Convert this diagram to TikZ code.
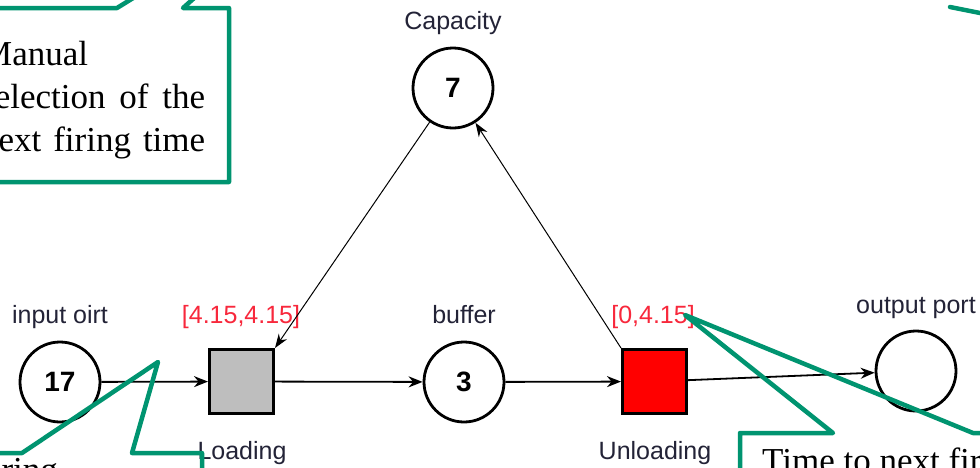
\documentclass[tikz,border=0pt]{standalone}
\usepackage{fontspec}
\setmainfont{Liberation Serif}
\setsansfont{Liberation Sans}
\usetikzlibrary{arrows.meta}
\definecolor{callgreen}{RGB}{0,148,112}
\definecolor{timered}{RGB}{248,40,60}
\definecolor{tokengray}{RGB}{190,190,190}
\definecolor{labelink}{RGB}{35,35,55}
\tikzset{
  place/.style={circle, draw, line width=2.8pt, minimum size=80pt, inner sep=0pt,
    font=\sffamily\bfseries\fontsize{28}{30}\selectfont},
  trans/.style={rectangle, draw, line width=3pt, minimum size=64pt, inner sep=0pt},
  lbl/.style={font=\sffamily\fontsize{25}{28}\selectfont, text=labelink, inner sep=0pt, anchor=base},
  tlbl/.style={lbl, text=timered},
  arc/.style={line width=1.8pt, -{Stealth[length=14pt,width=11pt]}},
  thinarc/.style={line width=1pt, -{Stealth[length=14pt,width=10pt]}},
  callout/.style={draw=callgreen, line width=4.5pt, line join=round},
  calltext/.style={font=\fontsize{35}{42}\selectfont, inner sep=0pt, anchor=base west},
}
\begin{document}
\begin{tikzpicture}[x=1pt, y=-1pt]
  \clip (0,0) rectangle (980,467);
  \fill[white] (0,0) rectangle (980,467);

  % places
  \node[place] (cap) at (453,88) {7};
  \node[place] (in) at (60,382) {17};
  \node[place] (buf) at (464,382) {3};
  \node[place] (out) at (916,371) {};

  % transitions
  \node[trans, fill=tokengray] (load) at (241.5,381.5) {};
  \node[trans, fill=red] (unload) at (654.5,381.5) {};

  % labels
  \node[lbl] (capl) at (453,29) {Capacity};
  \node[lbl] (inl) at (60,323) {input oirt};
  \node[tlbl] (loadt) at (241,323) {[4.15,4.15]};
  \node[lbl] (bufl) at (464,323) {buffer};
  \node[tlbl] (unloadt) at (653,323) {[0,4.15]};
  \node[lbl] (outl) at (916,313) {output port};
  \node[lbl] (loadl) at (242,459) {Loading};
  \node[lbl] (unloadl) at (655,459) {Unloading};

  % arcs
  \draw[arc] (in) -- (load);
  \draw[arc] (load) -- (buf);
  \draw[arc] (buf) -- (unload);
  \draw[arc] (unload) -- (out);
  \draw[thinarc] (cap) -- (load.north east);
  \draw[thinarc] (unload.north west) -- (cap);

  % callouts
  \draw[callout] (-10,8) -- (117,8) -- (331,-124) -- (183,8) -- (229,8)
    -- (229,182) -- (-10,182);
  \node[calltext] (tl1) at (-19,65) {Manual};
  \node[calltext] (tl2) at (-19,108) {\makebox[224pt][s]{selection of the}};
  \node[calltext] (tl3) at (-19,151) {\makebox[224pt][s]{next firing time}};

  \draw[callout] (-10,453) -- (22,453) -- (158,362) -- (132,453) -- (202,453) -- (202,480);
  \node[calltext] (bl1) at (-20,481) {firing};

  \draw[callout] (740,480) -- (740,433) -- (833,433) -- (685,315) -- (973,433) -- (990,433);
  \node[calltext] (br1) at (762,472) {Time to next firing time};

  \draw[callout, line cap=round] (950,7) -- (990,15);
\end{tikzpicture}
\end{document}
